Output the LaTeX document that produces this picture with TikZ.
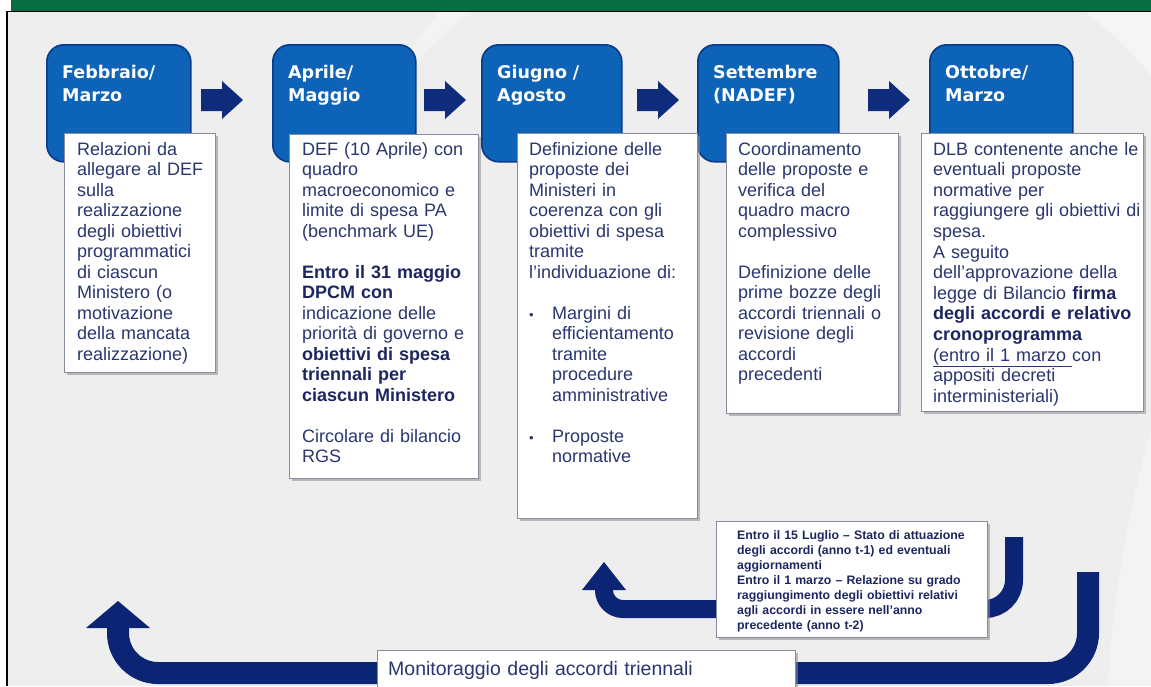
\documentclass[tikz,border=0pt]{standalone}
\usepackage{fontspec}
\setmainfont{Liberation Sans}
\newfontfamily\hdrfont{DejaVu Sans}
\usetikzlibrary{shadows}
\definecolor{bgc}{HTML}{EEEEEE}
\definecolor{topgreen}{HTML}{0A6D41}
\definecolor{hdrblue}{HTML}{0D63B8}
\definecolor{hdredge}{HTML}{0A3A8A}
\definecolor{navy}{HTML}{0F2C7C}
\definecolor{band}{HTML}{0B2473}
\definecolor{txt}{HTML}{2A3670}
\definecolor{txtb}{HTML}{1C2660}
\definecolor{wedge}{HTML}{878C9C}
\newcommand{\bb}[1]{\textcolor{txtb}{\textbf{#1}}}
\newcommand{\blockarrowat}[2]{\fill[navy] (#1-21,#2-11) -- (#1,#2-11) -- (#1,#2-19) -- (#1+21,#2) -- (#1,#2+19) -- (#1,#2+11) -- (#1-21,#2+11) -- cycle;}
\tikzset{
  hdrbox/.style={draw=hdredge, line width=1.6pt, fill=hdrblue, rounded corners=17pt, anchor=north west, minimum height=117pt, inner sep=0pt},
  hdrtxt/.style={anchor=base west, inner sep=0pt, text width=135pt, align=left, text=white, font=\hdrfont\bfseries\fontsize{17.5}{23}\selectfont},
  wbox/.style={draw=wedge, line width=0.8pt, fill=white, anchor=north west, inner sep=0pt,
    drop shadow={shadow xshift=2.5pt, shadow yshift=-2.5pt, opacity=0.55, fill=black!45}},
  body/.style={anchor=base west, inner sep=0pt, align=left, text=txt, font=\fontsize{18}{20.5}\selectfont},
  bandline/.style={draw=band, line width=#1},
}
\begin{document}
\begin{tikzpicture}[x=1pt,y=-1pt]
\useasboundingbox (0,0) rectangle (1151,686);
\clip (0,0) rectangle (1151,686);
\fill[white] (0,0) rectangle (1151,686);
\fill[bgc] (7,11) rectangle (1151,686);
% faint background streaks
\fill[white,opacity=0.45] (1085,11) -- (1151,11) -- (1151,75) .. controls (1125,45) .. (1085,11);
\fill[white,opacity=0.35] (1151,430) .. controls (1120,540) and (1112,620) .. (1108,686) -- (1151,686) -- cycle;
\fill[white,opacity=0.3] (440,11) -- (470,11) -- (405,70) -- (395,70) -- cycle;
\fill[topgreen] (11,0) rectangle (1151,10.5);
\draw[black, line width=1.2pt] (7,686) -- (7,11.5) -- (1151,11.5);

% header boxes
\node[hdrbox, minimum width=144pt] (h1) at (46,44) {};
\node[hdrbox, minimum width=143pt] (h2) at (272,44) {};
\node[hdrbox, minimum width=140pt] (h3) at (481,44) {};
\node[hdrbox, minimum width=141pt] (h4) at (697,44) {};
\node[hdrbox, minimum width=143pt] (h5) at (929,44) {};
\node[hdrtxt] (ht1) at (62,78) {Febbraio/\\Marzo};
\node[hdrtxt] (ht2) at (288,78) {Aprile/\\Maggio};
\node[hdrtxt] (ht3) at (497,78) {Giugno /\\Agosto};
\node[hdrtxt] (ht4) at (713,78) {Settembre\\(NADEF)};
\node[hdrtxt] (ht5) at (945,78) {Ottobre/\\Marzo};

% block arrows (shaft/head joint x, centre y)
\blockarrowat{222}{100}
\blockarrowat{445}{100}
\blockarrowat{658}{100}
\blockarrowat{889}{100}

% white boxes
\node[wbox, minimum width=151pt, minimum height=239pt] (w1) at (64,133) {};
\node[wbox, minimum width=189pt, minimum height=344pt] (w2) at (289,134) {};
\node[wbox, minimum width=180pt, minimum height=385pt] (w3) at (517,133) {};
\node[wbox, minimum width=172pt, minimum height=280pt] (w4) at (726,133) {};
\node[wbox, minimum width=222pt, minimum height=278pt] (w5) at (921,133) {};

\node[body, text width=140pt] (t1) at (77,155) {Relazioni da\\allegare al DEF\\sulla\\realizzazione\\degli obiettivi\\programmatici\\di ciascun\\Ministero (o\\motivazione\\della mancata\\realizzazione)};
\node[body, text width=180pt] (t2) at (302,155) {DEF (10 Aprile) con\\quadro\\macroeconomico e\\limite di spesa PA\\(benchmark UE)\\[20.5pt]\bb{Entro il 31 maggio}\\\bb{DPCM con}\\indicazione delle\\priorità di governo e\\\bb{obiettivi di spesa}\\\bb{triennali per}\\\bb{ciascun Ministero}\\[20.5pt]Circolare di bilancio\\RGS};
\node[body, text width=170pt] (t3) at (529,155) {Definizione delle\\proposte dei\\Ministeri in\\coerenza con gli\\obiettivi di spesa\\tramite\\l’individuazione di:\\[20.5pt]\makebox[23pt][l]{\fontsize{13}{13}\selectfont\textbullet}Margini di\\\hspace*{23pt}efficientamento\\\hspace*{23pt}tramite\\\hspace*{23pt}procedure\\\hspace*{23pt}amministrative\\[20.5pt]\makebox[23pt][l]{\fontsize{13}{13}\selectfont\textbullet}Proposte\\\hspace*{23pt}normative};
\node[body, text width=165pt] (t4) at (738,155) {Coordinamento\\delle proposte e\\verifica del\\quadro macro\\complessivo\\[20.5pt]Definizione delle\\prime bozze degli\\accordi triennali o\\revisione degli\\accordi\\precedenti};
\node[body, text width=215pt, font=\fontsize{18}{20.6}\selectfont] (t5) at (933,155) {DLB contenente anche le\\eventuali proposte\\normative per\\raggiungere gli obiettivi di\\spesa.\\A seguito\\dell’approvazione della\\legge di Bilancio \bb{firma}\\\bb{degli accordi e relativo}\\\bb{cronoprogramma}\\\underline{(entro il 1 marzo }con\\appositi decreti\\interministeriali)};

% monitoring loops
\coordinate (bs) at (1088,572);
\coordinate (bt) at (118,601);
\draw[bandline=22pt] (bs) -- (1088,633) arc[start angle=0, end angle=90, radius=40] -- (158,673) arc[start angle=90, end angle=180, radius=40] -- (118,626);
\fill[band] (86,628) -- (bt) -- (150,628) -- cycle;
\coordinate (ss) at (1014,537);
\coordinate (st) at (604,562);
\draw[bandline=18pt] (ss) -- (1014,580) arc[start angle=0, end angle=90, radius=29] -- (623,609) arc[start angle=90, end angle=180, radius=19] -- (604,588);
\fill[band] (582,590) -- (st) -- (626,590) -- cycle;

% bottom boxes
\node[wbox, minimum width=271pt, minimum height=116pt] (en) at (716,521) {};
\node[body, text width=260pt, font=\fontsize{12.3}{15}\selectfont\bfseries, text=txtb] (ent) at (737,539) {Entro il 15 Luglio – Stato di attuazione\\degli accordi (anno t-1) ed eventuali\\aggiornamenti\\Entro il 1 marzo – Relazione su grado\\raggiungimento degli obiettivi relativi\\agli accordi in essere nell’anno\\precedente (anno t-2)};
\node[wbox, minimum width=418pt, minimum height=50pt] (mon) at (377,650) {};
\node[body, text width=400pt, font=\fontsize{19.5}{22}\selectfont] (mont) at (388,675) {Monitoraggio degli accordi triennali};
\end{tikzpicture}
\end{document}
